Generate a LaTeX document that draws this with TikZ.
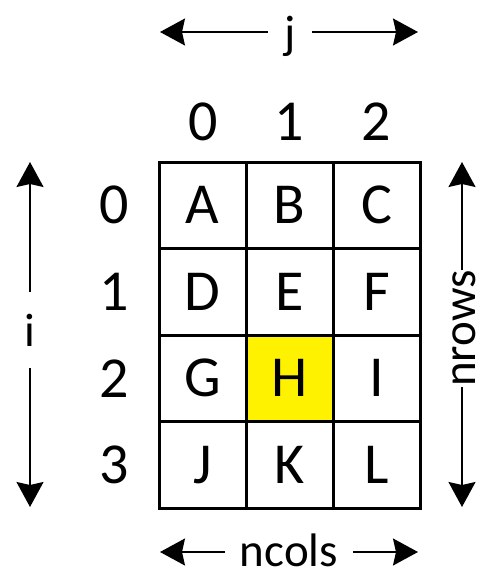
\documentclass[tikz,border=0pt]{standalone}
\usepackage{fontspec}
\setmainfont{Carlito}
\usetikzlibrary{arrows.meta}
\begin{document}
\begin{tikzpicture}[x=1pt,y=-1pt,
  cell/.style={draw=black,line width=3pt,minimum width=87pt,minimum height=86.5pt,inner sep=0pt,font=\fontsize{58}{70}\selectfont},
  idx/.style={inner sep=0pt,font=\fontsize{58}{70}\selectfont},
  lbl/.style={inner sep=0pt,font=\fontsize{47}{56}\selectfont},
  arr/.style={line width=1.5pt,-{Stealth[length=25pt,width=27pt,inset=3pt]}}]
\useasboundingbox (0,0) rectangle (487,578);
% cells
\node[cell] (A) at (202.5,205.25) {A};
\node[cell] (B) at (289.5,205.25) {B};
\node[cell] (C) at (376.5,205.25) {C};
\node[cell] (D) at (202.5,291.75) {D};
\node[cell] (E) at (289.5,291.75) {E};
\node[cell] (F) at (376.5,291.75) {F};
\node[cell] (G) at (202.5,378.25) {G};
\node[cell,fill=yellow] (H) at (289.5,378.25) {H};
\node[cell] (I) at (376.5,378.25) {I};
\node[cell] (J) at (202.5,464.75) {J};
\node[cell] (K) at (289.5,464.75) {K};
\node[cell] (L) at (376.5,464.75) {L};
% column indices
\node[idx] (c0) at (203,122) {0};
\node[idx] (c1) at (289.5,122) {1};
\node[idx] (c2) at (376,122) {2};
% row indices
\node[idx] (r0) at (114,205.25) {0};
\node[idx] (r1) at (114,291.75) {1};
\node[idx] (r2) at (114,378.25) {2};
\node[idx] (r3) at (114,464.75) {3};
% j arrow
\node[lbl,minimum width=44pt] (jl) at (290,36) {j};
\coordinate (jL) at (160,32);
\coordinate (jR) at (418,32);
\draw[arr] (jl.west|-jL) -- (jL);
\draw[arr] (jl.east|-jR) -- (jR);
% ncols arrow
\node[lbl,minimum width=128pt] (nc) at (289,550) {ncols};
\coordinate (nL) at (160,552);
\coordinate (nR) at (418,552);
\draw[arr] (nc.west|-nL) -- (nL);
\draw[arr] (nc.east|-nR) -- (nR);
% i arrow
\node[lbl,minimum height=76pt] (il) at (30,330) {i};
\coordinate (iT) at (30,162);
\coordinate (iB) at (30,507);
\draw[arr] (il.north-|iT) -- (iT);
\draw[arr] (il.south-|iB) -- (iB);
% nrows arrow
\node[lbl,rotate=90,minimum width=113pt] (nr) at (464,328.5) {nrows};
\coordinate (rT) at (462,162);
\coordinate (rB) at (462,507);
\draw[arr] (nr.east-|rT) -- (rT);
\draw[arr] (nr.west-|rB) -- (rB);
\end{tikzpicture}
\end{document}
